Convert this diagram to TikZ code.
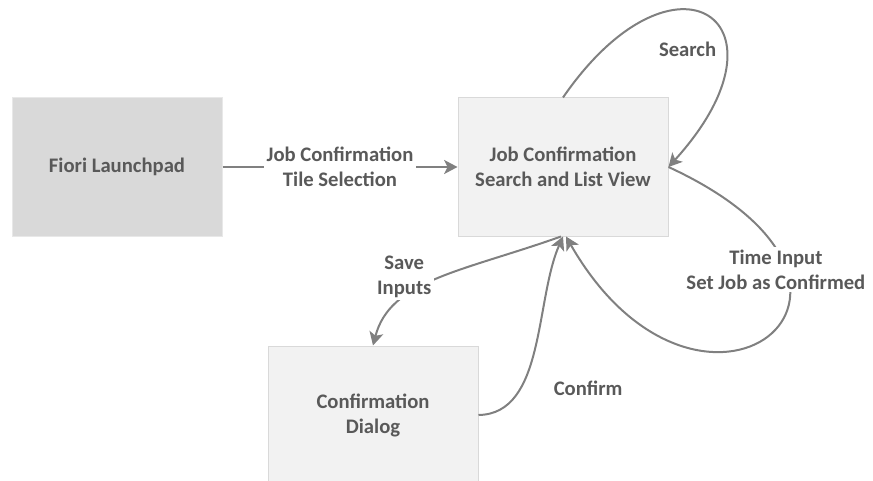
\documentclass[tikz,border=0pt]{standalone}
\usepackage{fontspec}
\setmainfont{Carlito}
\usetikzlibrary{arrows.meta}
\definecolor{txtgray}{HTML}{595959}
\definecolor{linegray}{HTML}{808080}
\definecolor{boxgray}{HTML}{D9D9D9}
\definecolor{boxlight}{HTML}{F2F2F2}
\definecolor{boxedge}{HTML}{E8E8E8}
\begin{document}
\begin{tikzpicture}[x=0.75pt,y=-0.75pt,
    screen/.style={draw=boxgray,fill=boxlight,line width=0.75pt,
      minimum width=157.5pt,minimum height=103.5pt,inner sep=0pt,
      text=txtgray,align=center,font=\bfseries\fontsize{15.5pt}{18.75pt}\selectfont},
    flow/.style={draw=linegray,line width=1.5pt,
      -{Stealth[length=10pt,width=10.5pt,inset=2.5pt]}},
    tag/.style={text=txtgray,align=center,inner sep=2pt,
      font=\bfseries\fontsize{15.5pt}{18.75pt}\selectfont},
    lbl/.style={tag,fill=white}]
  \useasboundingbox (0,0) rectangle (873,481);
  % screens
  \node[screen,fill=boxgray,draw=boxedge] (fiori) at (117,167) {Fiori Launchpad};
  \node[screen] (list) at (563,167) {Job Confirmation\\Search and List View};
  \node[screen] (dialog) at (373,415) {Confirmation\\Dialog};
  % navigation
  \draw[flow] (fiori) -- node[lbl]{Job Confirmation\\Tile Selection} (list);
  \draw[flow] (list.north) .. controls (675,-65) and (801,21) ..
    node[tag,pos=0.68,left=4pt,yshift=1.5pt]{Search} (list.east);
  \draw[flow] (list.east) .. controls (935,290) and (700,470) ..
    node[lbl,pos=0.27,xshift=-8pt]{Time Input\\Set Job as Confirmed} ([xshift=2.25pt]list.south);
  \draw[flow] ([xshift=-1.5pt]list.south) .. controls (461,272) and (390,280) ..
    node[lbl,pos=0.65,xshift=-4pt,yshift=13pt]{Save\\Inputs} (dialog.north);
  \draw[flow] (dialog.east) .. controls (545,414) and (535,300) ..
    node[tag,pos=0.3,right=22pt]{Confirm} (list.south);
\end{tikzpicture}
\end{document}
